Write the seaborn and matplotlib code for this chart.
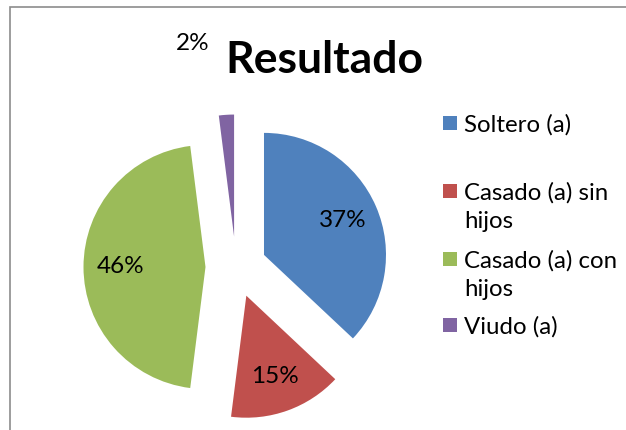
import numpy as np
import matplotlib
matplotlib.use("Agg")
import matplotlib.pyplot as plt
from matplotlib.patches import Rectangle
import seaborn as sns

# ===[ Data ]==================================================================
categories = ["Soltero (a)", "Casado (a) sin hijos", "Casado (a) con hijos", "Viudo (a)"]
legend_lines = [["Soltero (a)"], ["Casado (a) sin", "hijos"],
                ["Casado (a) con", "hijos"], ["Viudo (a)"]]
values = [37, 15, 46, 2]
colors = ["#4F81BD", "#C0504D", "#9BBB59", "#8064A2"]
title = "Resultado"

W, H = 626, 430


def fx(px):
    return px / W


def fy(py):
    return 1 - py / H


def main():
    sns.set_theme(style="white")
    plt.rcParams["font.family"] = ["Lato", "DejaVu Sans"]
    plt.rcParams["text.color"] = "black"

    fig = plt.figure(figsize=(W / 100, H / 100), dpi=100)
    fig.patch.set_facecolor("white")

    # pie axes: centre (236, 267) px, radius 122 px
    cx, cy, r, span = 236, 267, 122, 1.6
    ax = fig.add_axes([fx(cx - span * r), fy(cy + span * r),
                       2 * span * r / W, 2 * span * r / H])
    palette = sns.color_palette(colors)
    wedges, texts, autotexts = ax.pie(
        values, colors=palette, startangle=90, counterclock=False,
        explode=[0.25] * len(values), autopct="%1.0f%%", pctdistance=0.7,
        radius=1, textprops=dict(fontsize=17.5, color="black"),
        wedgeprops=dict(linewidth=0))
    ax.set_xlim(-span, span)
    ax.set_ylim(-span, span)
    ax.set_aspect("auto")
    ax.axis("off")

    # tiny slice: label pushed outside like Excel's best fit
    w = wedges[3]
    mid = np.deg2rad((w.theta1 + w.theta2) / 2 + 8.4)
    c0 = w.center
    autotexts[3].set_position((c0[0] + 1.62 * np.cos(mid), c0[1] + 1.62 * np.sin(mid)))

    # title
    fig.text(fx(324), fy(60), title, fontsize=32, fontweight="bold",
             color="black", ha="center", va="center")

    # legend drawn by hand (Excel layout)
    sq_y = [123, 191, 259, 325]
    for lines, col, y in zip(legend_lines, palette, sq_y):
        fig.add_artist(Rectangle((fx(443), fy(y + 7)), 14 / W, 14 / H,
                                 transform=fig.transFigure, color=col, lw=0))
        for i, line in enumerate(lines):
            fig.text(fx(464), fy(y + 9 + i * 28), line, fontsize=17.3,
                     color="black", ha="left", va="baseline")

    # chart frame (only top/left visible)
    fig.add_artist(Rectangle((fx(10), -0.1), 1.2, fy(7) + 0.1,
                             transform=fig.transFigure, fill=False,
                             edgecolor="#8C8C8C", lw=1.2))

    fig.savefig("out.png", dpi=100)


if __name__ == "__main__":
    main()
